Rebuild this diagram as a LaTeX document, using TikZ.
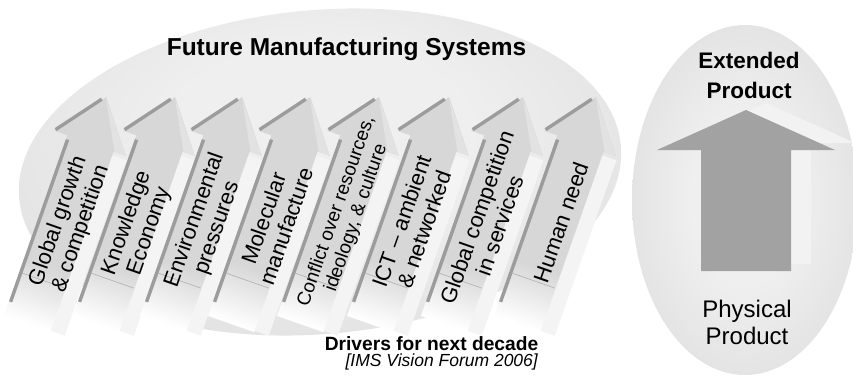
\documentclass[tikz,border=0pt]{standalone}
\usepackage{fontspec}
\setmainfont{Liberation Sans}
\definecolor{ellin}{HTML}{EFEFEF}
\definecolor{ellout}{HTML}{D3D3D3}
\definecolor{rellin}{HTML}{EFEFEF}
\definecolor{rellout}{HTML}{CFCFCF}
\definecolor{bodyc}{HTML}{D7D7D7}
\definecolor{edgec}{HTML}{9C9C9C}
\definecolor{sidec}{HTML}{F4F4F4}
\definecolor{headlt}{HTML}{E2E2E2}
\definecolor{thinc}{HTML}{B4B4B4}
\definecolor{bigarr}{HTML}{A2A2A2}
\definecolor{bigarrlt}{HTML}{F2F2F2}
\pgfdeclareradialshading{bigell}{\pgfpoint{0bp}{8bp}}{color(0bp)=(ellin); color(12bp)=(ellin); color(50bp)=(ellout)}
\pgfdeclareradialshading{rightell}{\pgfpoint{0bp}{0bp}}{color(0bp)=(rellin); color(12bp)=(rellin); color(50bp)=(rellout)}
\tikzset{
  sideface/.style={fill=sidec},
  darkedge/.style={draw=edgec, line width=3.4pt},
  thinedge/.style={draw=thinc, line width=0.7pt},
  drvtext/.style={rotate=70.65, align=center, inner sep=0pt, text=black},
  lbl/.style={anchor=base, inner sep=0pt, text=black},
  drvfont/.style={font=\fontsize{22}{24}\selectfont},
  smallfont/.style={font=\fontsize{19}{21}\selectfont}
}
\newcommand\drvarrow[5]{%
\begin{scope}[shift={(#2,74.3)},rotate=-19.35]
  \fill[sideface] (46,-14) rectangle (63,172);
  \fill[bodyc] (-1,44) rectangle (48,177);
  \foreach \i in {0,...,19}{%
    \pgfmathtruncatemacro\pct{97-5*\i}%
    \fill[fill=bodyc!\pct!white] (-1,{45-3*\i}) rectangle (48,{41.6-3*\i});
  }
  \fill[bodyc] (-15,176) -- (23,225) -- (61,176) -- cycle;
  \fill[headlt] (23,224) -- (61,176) -- (49,176) -- cycle;
  \draw[darkedge] (0.6,0) -- (0.6,172);
  \draw[darkedge] (-14,177.5) -- (19.5,221.5);
  \draw[thinedge] (1.5,31) -- (47,31);
  \node[drvtext, #4] (#1) at (31,#3) {#5};
\end{scope}}
\begin{document}
\begin{tikzpicture}[x=1pt,y=1pt]
\useasboundingbox (0,0) rectangle (853,376);
\clip (0,0) rectangle (853,376);
% background ellipses
\shade[shading=bigell, rotate around={5:(320,204)}] (320,204) ellipse [x radius=302, y radius=162];
\shade[shading=rightell] (745,176) ellipse [x radius=113, y radius=175];
% title
\node[lbl, font=\bfseries\fontsize{24.5}{28}\selectfont] (title) at (346.5,321) {Future Manufacturing Systems};
% driver arrows
\drvarrow{a1}{10}{92}{drvfont}{Global growth\\\& competition}
\drvarrow{a2}{79}{90}{drvfont}{Knowledge\\Economy}
\drvarrow{a3}{146}{93}{drvfont}{Environmental\\pressures}
\drvarrow{a4}{214}{95}{drvfont}{Molecular\\manufacture}
\drvarrow{a5}{283}{103}{smallfont}{Conflict over resources,\\ideology, \& culture}
\drvarrow{a6}{353}{92}{drvfont}{ICT – ambient\\\& networked}
\drvarrow{a7}{427}{96}{drvfont}{Global competition\\in services}
\drvarrow{a8}{500}{95}{drvfont}{Human need}
% bottom caption
\node[lbl, font=\bfseries\fontsize{19.2}{22}\selectfont] (drivers) at (431.5,25.3) {Drivers for next decade};
\node[lbl, font=\itshape\fontsize{17.5}{20}\selectfont] (ims) at (441.7,9.3) {[IMS Vision Forum 2006]};
% extended product arrow
\begin{scope}
  \clip (745,176) ellipse [x radius=113, y radius=175];
  \fill[bigarrlt] (721,112) -- (721,233) -- (677,233) -- (766,273) -- (855,233) -- (811,233) -- (811,112) -- cycle;
\end{scope}
\fill[bigarr] (701,105) -- (701,226) -- (657,226) -- (746,266) -- (835,226) -- (791,226) -- (791,105) -- cycle;
\node[lbl, font=\bfseries\fontsize{22.5}{26}\selectfont] (ext1) at (749,307.7) {Extended};
\node[lbl, font=\bfseries\fontsize{22.5}{26}\selectfont] (ext2) at (749,277.7) {Product};
\node[lbl, font=\fontsize{24}{28}\selectfont] (phys1) at (747,59) {Physical};
\node[lbl, font=\fontsize{24}{28}\selectfont] (phys2) at (747,32) {Product};
\end{tikzpicture}
\end{document}
